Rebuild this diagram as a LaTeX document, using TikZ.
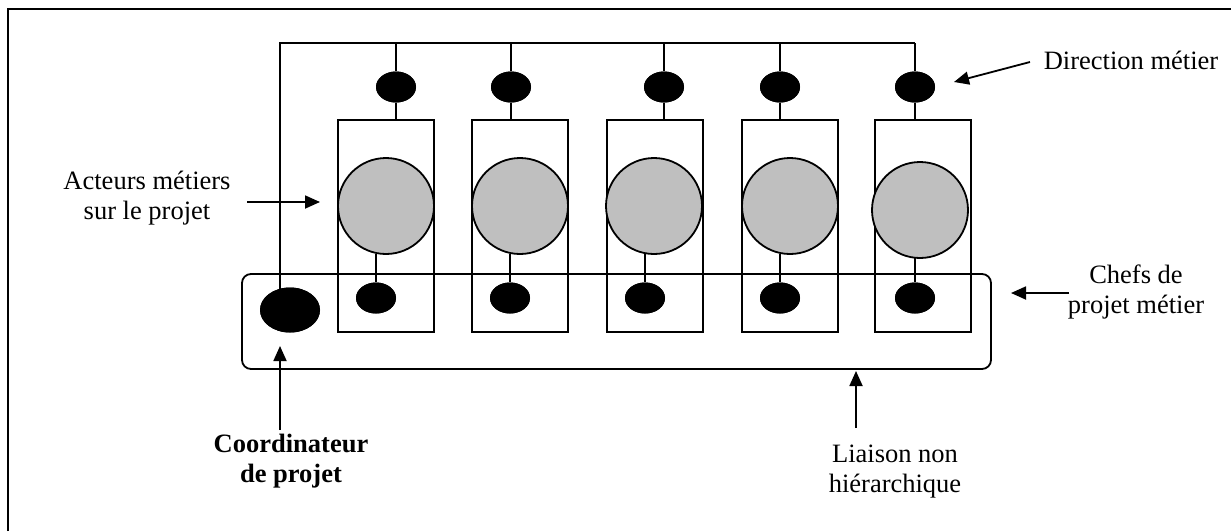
\documentclass[tikz,border=0pt]{standalone}
\usepackage{fontspec}
\setmainfont{Liberation Serif}
\usetikzlibrary{shapes.geometric,arrows.meta}
\begin{document}
\begin{tikzpicture}[x=1pt,y=-1pt,
  ln/.style={line width=1.8pt},
  dot/.style={ellipse,fill=black,inner sep=0pt,minimum width=40pt,minimum height=31pt},
  bigdot/.style={ellipse,fill=black,inner sep=0pt,minimum width=60pt,minimum height=45pt},
  actor/.style={circle,draw,ln,fill=black!25,inner sep=0pt,minimum size=96pt},
  colbox/.style={draw,ln,inner sep=0pt,minimum width=96pt,minimum height=212pt},
  arr/.style={ln,-{Triangle[length=15pt,width=13pt]}},
  lbl/.style={font=\fontsize{26.5}{30}\selectfont,align=center,inner sep=0pt,anchor=base}]
\useasboundingbox (0,0) rectangle (1231,531);
% outer frame (cropped)
\draw[line width=2.6pt] (8,531) -- (8,9) -- (1231,9);

% columns: boxes
\node[colbox] (b1) at (386,226) {};
\node[colbox] (b2) at (520,226) {};
\node[colbox] (b3) at (655,226) {};
\node[colbox] (b4) at (790,226) {};
\node[colbox] (b5) at (923,226) {};

% top dots (direction)
\node[dot] (t1) at (396,87) {};
\node[dot] (t2) at (511,87) {};
\node[dot] (t3) at (664,87) {};
\node[dot] (t4) at (780,87) {};
\node[dot] (t5) at (915,87) {};

% actors
\node[actor] (c1) at (386,206) {};
\node[actor] (c2) at (520,206) {};
\node[actor] (c3) at (654,206) {};
\node[actor] (c4) at (790,206) {};
\node[actor] (c5) at (920,210) {};

% bottom dots (chefs de projet)
\node[dot] (e1) at (376,298) {};
\node[dot] (e2) at (510,298) {};
\node[dot] (e3) at (645,298) {};
\node[dot] (e4) at (780,298) {};
\node[dot] (e5) at (915,298) {};

% coordinator
\node[bigdot] (co) at (290,310) {};
\coordinate (bus) at (280,43);
\coordinate (coin) at (280,292);

% hierarchy lines
\draw[ln] (coin) -- (bus) -- (t5 |- bus);
\foreach \i in {1,...,5} {
  \draw[ln] (t\i |- bus) -- (t\i.north);
  \draw[ln] (t\i.south) -- (t\i |- b\i.north);
  \draw[ln] (e\i |- c\i.center) ++(0,48) -- (e\i.north);
}
\node[bigdot] at (co) {};
\foreach \i in {1,...,5} { \node[dot] at (t\i) {}; \node[dot] at (e\i) {}; }

% non-hierarchical group
\draw[ln,rounded corners=9pt] (242,274) rectangle (991,369);

% labels (base anchor = baseline of last line)
\node[lbl] (ldir) at (1131,69) {Direction métier};
\node[lbl] (lact) at (147,219) {Acteurs métiers\\sur le projet};
\node[lbl] (lchef) at (1136,313) {Chefs de\\projet métier};
\node[lbl,font=\fontsize{26.5}{30}\selectfont\bfseries] (lcoo) at (291,482) {Coordinateur\\de projet};
\node[lbl] (llia) at (895,492) {Liaison non\\hiérarchique};

% arrows
\coordinate (adir1) at (1030,62);  \coordinate (adir2) at (954,82);
\coordinate (aact1) at (247,202);  \coordinate (aact2) at (320,202);
\coordinate (ach1) at (1069,293);  \coordinate (ach2) at (1011,293);
\coordinate (aco1) at (280,430);   \coordinate (aco2) at (280,346);
\coordinate (ali1) at (856,428);   \coordinate (ali2) at (856,371);
\draw[arr] (adir1) -- (adir2);
\draw[arr] (aact1) -- (aact2);
\draw[arr] (ach1) -- (ach2);
\draw[arr] (aco1) -- (aco2);
\draw[arr] (ali1) -- (ali2);
\end{tikzpicture}
\end{document}
